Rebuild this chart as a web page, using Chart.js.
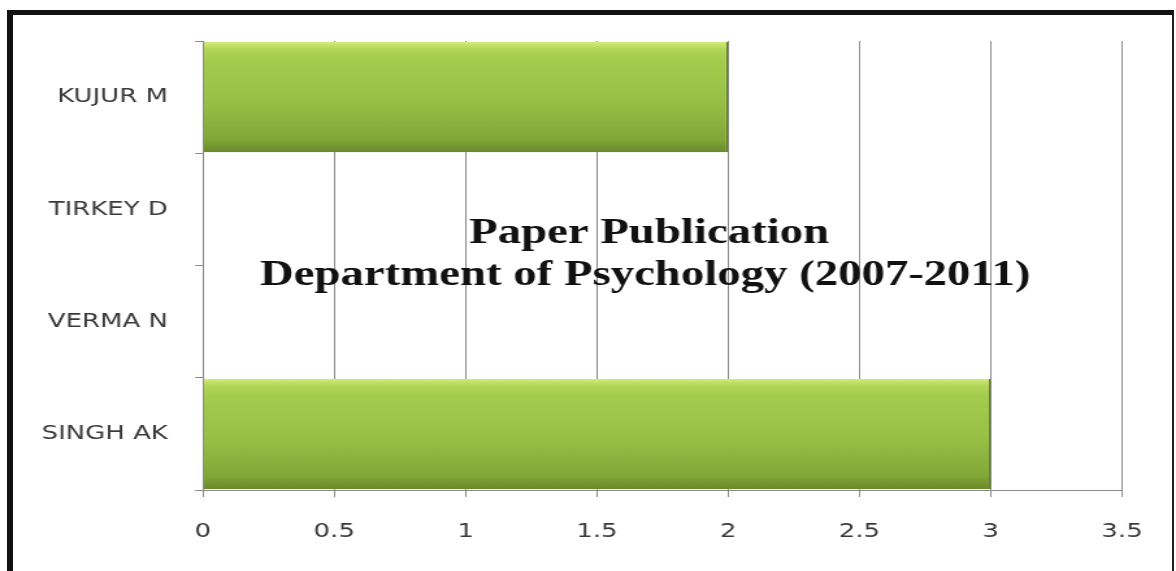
<!DOCTYPE html>
<html><head><meta charset="utf-8">
<script src="https://cdn.jsdelivr.net/npm/chart.js@4"></script>
<style>
html,body{margin:0;padding:0;background:#fff;overflow:hidden}
#wrap{position:relative;width:1176px;height:571px;background:#fff}
#c{position:absolute;left:0;top:0}
#frame{position:absolute;left:7px;top:10px;width:1159px;height:620px;border-left:6px solid #111;border-top:5px solid #111;border-right:2px solid #222;pointer-events:none}
</style></head>
<body><div id="wrap"><canvas id="c" width="905" height="571" style="width:1176px;height:571px"></canvas><div id="frame"></div></div>
<script>
// ---- data ----
const categories = ['KUJUR M', 'TIRKEY D', 'VERMA N', 'SINGH AK'];
const publications = [2, 0, 0, 3];
const xTicks = [0, 0.5, 1, 1.5, 2, 2.5, 3, 3.5];
const titleLines = ['Paper Publication', 'Department of Psychology (2007-2011)'];

const GRID = '#8a8a8a';
const LABEL = '#3a3a3a';
const BAR_PCT = 0.98;

function barGradient(c) {
  const chart = c.chart;
  const y = chart.scales && chart.scales.y;
  if (!y || c.dataIndex === undefined || !chart.ctx) return '#9bc44a';
  const center = y.getPixelForValue(c.dataIndex);
  const half = y.height / categories.length / 2 * BAR_PCT;
  if (!isFinite(center) || !isFinite(half) || half <= 0) return '#9bc44a';
  const g = chart.ctx.createLinearGradient(0, center - half, 0, center + half);
  g.addColorStop(0, '#d2ec7a');
  g.addColorStop(0.06, '#b3d758');
  g.addColorStop(0.15, '#a4cc4e');
  g.addColorStop(0.55, '#97bf45');
  g.addColorStop(0.88, '#82a738');
  g.addColorStop(1, '#6a8a2a');
  return g;
}

const centerTitle = {
  id: 'centerTitle',
  afterDatasetsDraw(chart) {
    const {ctx, chartArea} = chart;
    ctx.save();
    ctx.font = 'bold 36px "Liberation Serif", "Times New Roman", serif';
    ctx.fillStyle = '#111';
    ctx.textAlign = 'center';
    ctx.textBaseline = 'alphabetic';
    const cx = chartArea.left + chartArea.width * 0.481;
    ctx.fillText(titleLines[0], cx + 3, chartArea.top + chartArea.height * 0.45);
    ctx.fillText(titleLines[1], cx, chartArea.top + chartArea.height * 0.5434);
    ctx.restore();
  }
};

new Chart(document.getElementById('c'), {
  type: 'bar',
  data: {
    labels: categories,
    datasets: [{
      data: publications,
      backgroundColor: barGradient,
      borderColor: '#5f7d25',
      borderWidth: {top: 0, bottom: 0, left: 0, right: 1.5},
      borderSkipped: false,
      barPercentage: BAR_PCT,
      categoryPercentage: 1
    }]
  },
  options: {
    indexAxis: 'y',
    responsive: false,
    animation: false,
    devicePixelRatio: 1,
    layout: {padding: {left: 0, top: 41, right: 41.5, bottom: 0}},
    plugins: {legend: {display: false}, title: {display: false}, tooltip: {enabled: false}},
    scales: {
      x: {
        type: 'linear', min: 0, max: 3.5,
        afterBuildTicks: s => { s.ticks = xTicks.map(v => ({value: v})); },
        afterFit: s => { s.height = 81; },
        grid: {color: GRID, lineWidth: 1, tickLength: 7, drawTicks: true},
        border: {display: true, color: GRID, width: 1},
        ticks: {color: LABEL, padding: 23, callback: v => String(v), font: {family: '"DejaVu Sans", Verdana, sans-serif', size: 20}, maxRotation: 0}
      },
      y: {
        afterFit: s => { s.width = 156.2; },
        grid: {drawOnChartArea: false, color: GRID, tickLength: 6, offset: true},
        border: {display: true, color: GRID, width: 1},
        ticks: {color: LABEL, padding: 21, font: {family: '"DejaVu Sans", Verdana, sans-serif', size: 20}}
      }
    }
  },
  plugins: [centerTitle]
});
</script>
</body></html>
